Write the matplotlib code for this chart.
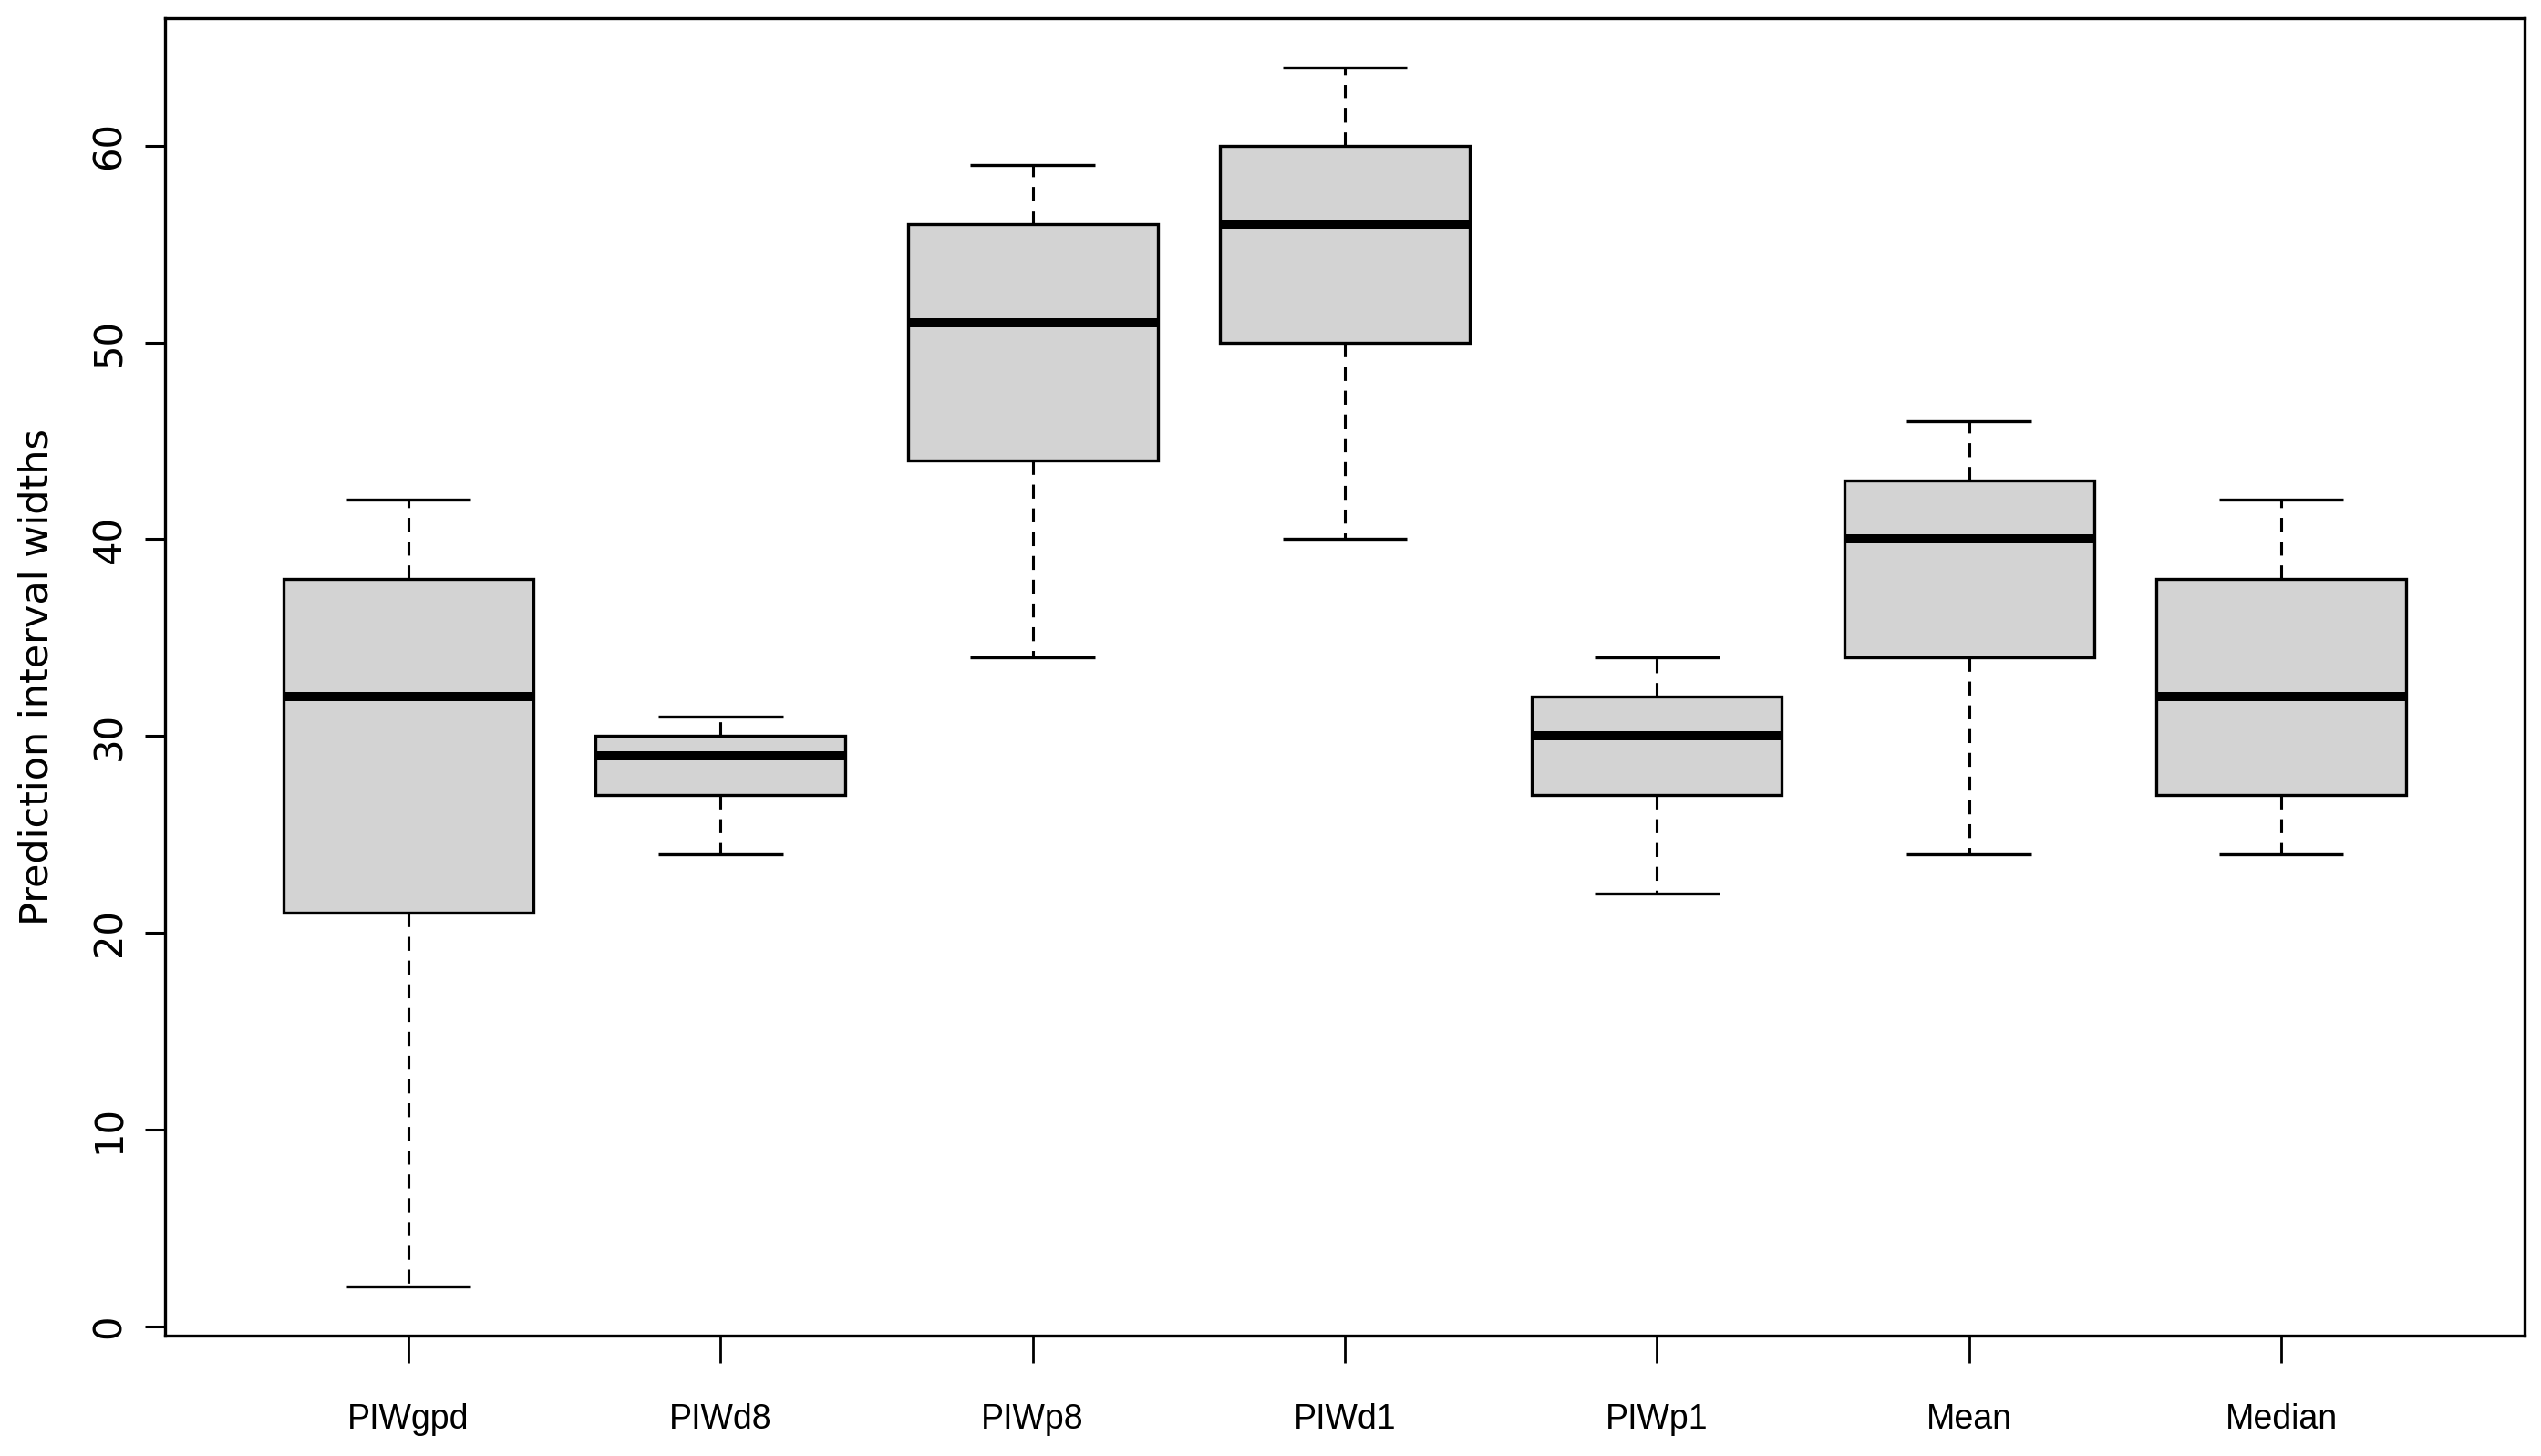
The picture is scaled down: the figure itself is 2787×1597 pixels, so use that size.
import matplotlib
matplotlib.use("Agg")
import matplotlib.pyplot as plt

# five-number summaries (whisker low, Q1, median, Q3, whisker high)
labels   = ["PIWgpd", "PIWd8", "PIWp8", "PIWd1", "PIWp1", "Mean", "Median"]
whis_lo  = [2, 24, 34, 40, 22, 24, 24]
q1       = [21, 27, 44, 50, 27, 34, 27]
medians  = [32, 29, 51, 56, 30, 40, 32]
q3       = [38, 30, 56, 60, 32, 43, 38]
whis_hi  = [42, 31, 59, 64, 34, 46, 42]
y_ticks  = [0, 10, 20, 30, 40, 50, 60]

LW = 2.4

stats = []
for i, name in enumerate(labels):
    stats.append(dict(label=name, whislo=whis_lo[i], q1=q1[i], med=medians[i],
                      q3=q3[i], whishi=whis_hi[i], fliers=[]))

fig = plt.figure(figsize=(27.87, 15.97), dpi=100)
ax = fig.add_axes([181 / 2787, 132 / 1597, 2588 / 2787, 1445 / 1597])

ax.bxp(stats, positions=range(1, len(labels) + 1), widths=0.8, capwidths=0.4,
       patch_artist=True, showfliers=False,
       boxprops=dict(facecolor="#d3d3d3", edgecolor="black", linewidth=LW),
       medianprops=dict(color="black", linewidth=LW * 3, solid_capstyle="butt"),
       whiskerprops=dict(color="black", linewidth=LW * 0.92, linestyle=(0, (5, 3.5))),
       capprops=dict(color="black", linewidth=LW, solid_capstyle="butt"))

# R-style ranges: 4% padding around data / box slots
ax.set_xlim(0.22, 7.78)
ax.set_ylim(-0.48, 66.48)

ax.set_yticks(y_ticks)
ax.tick_params(axis="x", length=21.6, width=2.0, pad=32, labelsize=27)
ax.tick_params(axis="y", length=15.8, width=2.2, pad=13, labelsize=30)
for lab in ax.get_xticklabels():
    lab.set_fontfamily(["Liberation Sans Narrow", "Liberation Sans"])
for lab in ax.get_yticklabels():
    lab.set_fontfamily("DejaVu Sans")
    lab.set_rotation(90)
    lab.set_va("center")

for sp in ax.spines.values():
    sp.set_linewidth(LW)

ax.set_ylabel("Prediction interval widths", fontsize=31, fontfamily="DejaVu Sans")
ax.yaxis.set_label_coords(-0.0463, 0.5)

plt.savefig("out.png", dpi=100)
